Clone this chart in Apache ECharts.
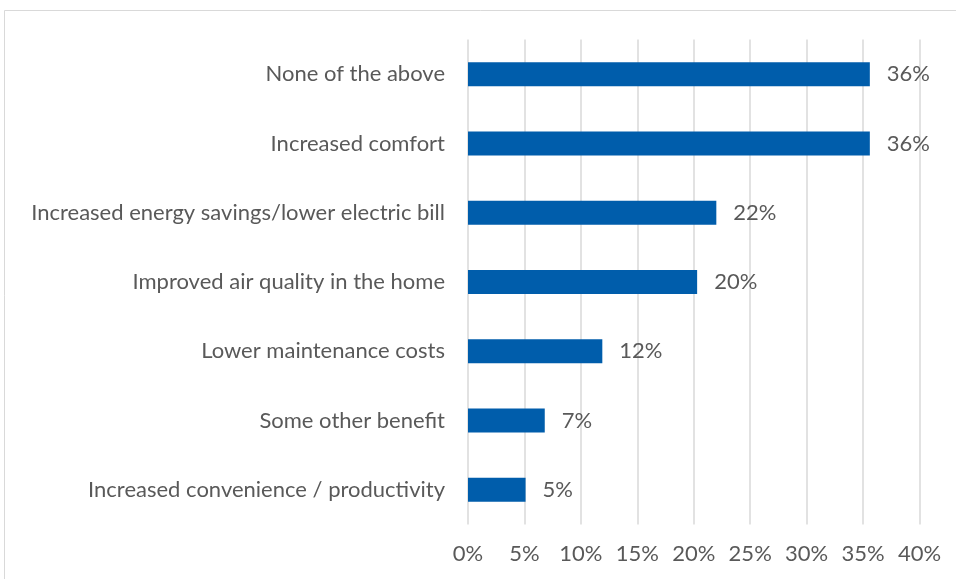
<!DOCTYPE html>
<html>
<head>
<meta charset="utf-8">
<script src="https://cdn.jsdelivr.net/npm/echarts@6/dist/echarts.min.js"></script>
<style>
  html, body { margin: 0; padding: 0; background: #fff; }
  #chart { width: 956px; height: 579px; }
</style>
</head>
<body>
<div id="chart"></div>
<script>
// Reported benefits, share of respondents (%)
const categories = [
  'None of the above',
  'Increased comfort',
  'Increased energy savings/lower electric bill',
  'Improved air quality in the home',
  'Lower maintenance costs',
  'Some other benefit',
  'Increased convenience / productivity'
];
const shares = [35.6, 35.6, 22.0, 20.3, 11.9, 6.8, 5.1];
const tickMin = 0;
const tickMax = 40;
const tickStep = 5;

const FONT = 'Lato, "Liberation Sans", sans-serif';
const TEXT = '#595959';
const GRID = '#d9d9d9';

const chart = echarts.init(document.getElementById('chart'), null, { renderer: 'canvas' });
chart.setOption({
  animation: false,
  backgroundColor: '#ffffff',
  graphic: [{
    type: 'rect',
    shape: { x: 4.5, y: 10.5, width: 1000, height: 700 },
    style: { fill: 'none', stroke: GRID, lineWidth: 1 },
    silent: true
  }],
  grid: { left: 468, right: 36.5, top: 39.5, bottom: 54.5, containLabel: false },
  xAxis: {
    type: 'value',
    min: tickMin,
    max: tickMax,
    interval: tickStep,
    axisLine: { show: false },
    axisTick: { show: false },
    splitLine: { show: true, lineStyle: { color: GRID, width: 1.5 } },
    axisLabel: {
      color: TEXT, fontFamily: FONT, fontSize: 22, margin: 18,
      formatter: v => v + '%'
    }
  },
  yAxis: {
    type: 'category',
    data: categories,
    inverse: true,
    axisLine: { show: false },
    axisTick: { show: false },
    axisLabel: { color: TEXT, fontFamily: FONT, fontSize: 22, margin: 23 }
  },
  series: [{
    type: 'bar',
    data: shares,
    barWidth: 24,
    itemStyle: { color: '#005dab' },
    label: {
      show: true,
      position: 'right',
      distance: 17,
      color: TEXT,
      fontFamily: FONT,
      fontSize: 22,
      formatter: p => Math.round(p.value) + '%'
    }
  }]
});
</script>
</body>
</html>
